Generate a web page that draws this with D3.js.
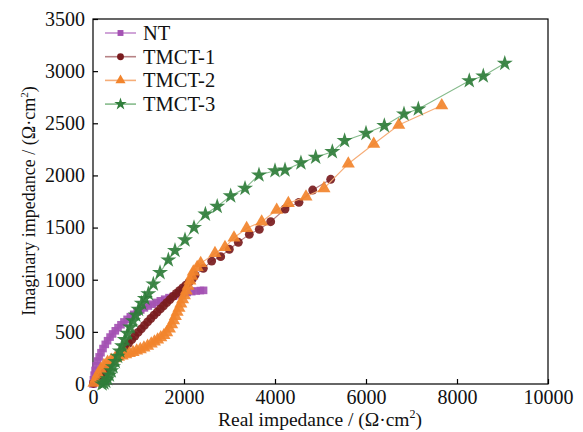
<!DOCTYPE html>
<html>
<head>
<meta charset="utf-8">
<script src="https://cdn.jsdelivr.net/npm/d3@7/dist/d3.min.js"></script>
<style>
  html, body { margin: 0; padding: 0; background: #fff; }
  svg text { font-family: "Liberation Serif", "Times New Roman", serif; fill: #111; }
</style>
</head>
<body>
<svg id="chart" width="583" height="432"></svg>
<script>
// ---- data (Ω·cm²) ----
const seriesNames = ["NT", "TMCT-1", "TMCT-2", "TMCT-3"];

const ntX = [0, 10, 25, 45, 70, 100, 135, 175, 220, 270, 320, 375, 430, 490, 550, 615, 680, 750, 820, 895, 970, 1050, 1130, 1215, 1300, 1390, 1480, 1575, 1670, 1770, 1870, 1970, 2070, 2170, 2270, 2360, 2430];
const ntY = [0, 40, 85, 130, 175, 220, 260, 300, 340, 380, 415, 450, 480, 510, 540, 568, 595, 620, 645, 668, 690, 710, 730, 748, 765, 782, 798, 813, 828, 842, 856, 868, 878, 886, 892, 896, 898];

const t1X = [10, 60, 120, 180, 240, 300, 360, 430, 500, 570, 640, 710, 780, 850, 920, 990, 1060, 1130, 1200, 1270, 1340, 1410, 1480, 1550, 1620, 1690, 1760, 1830, 1900, 1970, 2040, 2110, 2180, 2242, 2425, 2608, 2806, 2996, 3194, 3436, 3655, 3905, 4220, 4527, 4828, 5224];
const t1Y = [5, 30, 60, 90, 120, 150, 180, 215, 250, 285, 320, 355, 390, 425, 460, 495, 528, 562, 595, 628, 660, 690, 720, 750, 780, 810, 840, 868, 895, 922, 948, 975, 1005, 1045, 1109, 1179, 1221, 1292, 1359, 1435, 1483, 1556, 1678, 1742, 1860, 1963];

const t2X = [20, 60, 110, 170, 240, 320, 400, 480, 560, 640, 720, 800, 880, 960, 1040, 1120, 1200, 1280, 1350, 1420, 1490, 1560, 1620, 1680, 1730, 1770, 1810, 1850, 1890, 1930, 1970, 2010, 2050, 2090, 2130, 2170, 2205, 2290, 2367, 2681, 2901, 3099, 3377, 3707, 4037, 4293, 4681, 5077, 5611, 6170, 6720, 7665];
const t2Y = [10, 50, 95, 140, 180, 210, 230, 245, 260, 272, 283, 295, 305, 318, 332, 348, 365, 385, 405, 425, 445, 468, 495, 530, 570, 610, 650, 690, 730, 770, 810, 850, 895, 940, 990, 1035, 1077, 1120, 1157, 1253, 1311, 1403, 1493, 1556, 1668, 1733, 1796, 1876, 2112, 2301, 2483, 2670];

const t3X = [200, 240, 280, 320, 360, 400, 440, 490, 540, 590, 640, 700, 760, 820, 880, 940, 1000, 1070, 1140, 1216, 1326, 1473, 1656, 1802, 2022, 2220, 2470, 2730, 3026, 3341, 3648, 4000, 4220, 4570, 4894, 5260, 5530, 6000, 6403, 6835, 7150, 8270, 8578, 9050];
const t3Y = [0, 10, 25, 50, 85, 125, 165, 215, 265, 315, 365, 425, 485, 545, 605, 660, 715, 774, 820, 865, 958, 1068, 1189, 1280, 1381, 1500, 1628, 1703, 1803, 1876, 2004, 2045, 2052, 2120, 2174, 2228, 2333, 2404, 2477, 2589, 2637, 2908, 2953, 3075];

const xTicks = [0, 2000, 4000, 6000, 8000, 10000];
const yTicks = [0, 500, 1000, 1500, 2000, 2500, 3000, 3500];

const markerColors = ["#a452b3", "#7a1c1e", "#f2842c", "#2f7d3a"];
const lineColors   = ["#c48fcf", "#b78285", "#f6ad78", "#86bb8c"];
const symbols = [d3.symbolSquare, d3.symbolCircle, d3.symbolTriangle, d3.symbolStar];
const symSizes = [58, 62, 74, 80];

const allSeries = [[ntX, ntY], [t1X, t1Y], [t2X, t2Y], [t3X, t3Y]];

// ---- layout ----
const svg = d3.select("#chart");
const L = 93, R = 548, T = 19, B = 384;
const x = d3.scaleLinear().domain([0, 10000]).range([L, R]);
const y = d3.scaleLinear().domain([0, 3500]).range([B, T]);

// frame
svg.append("rect").attr("x", L).attr("y", T).attr("width", R - L).attr("height", B - T)
  .attr("fill", "none").attr("stroke", "#000").attr("stroke-width", 1.2);

// axes
const xAxis = svg.append("g").attr("transform", `translate(0,${B})`)
  .call(d3.axisBottom(x).tickValues(xTicks).tickSizeInner(-5).tickSizeOuter(0).tickPadding(6).tickFormat(d3.format("d")));
const yAxis = svg.append("g").attr("transform", `translate(${L},0)`)
  .call(d3.axisLeft(y).tickValues(yTicks).tickSizeInner(-5).tickSizeOuter(0).tickPadding(8).tickFormat(d3.format("d")));
[xAxis, yAxis].forEach(g => {
  g.select(".domain").remove();
  g.selectAll("line").attr("stroke", "#000").attr("stroke-width", 1.2);
  g.selectAll("text").style("font-family", "'Liberation Serif', serif").style("font-size", "20px").attr("fill", "#111");
});

// series
const line = d3.line().x(d => x(d[0])).y(d => y(d[1]));
allSeries.forEach((s, i) => {
  const pts = s[0].map((v, k) => [v, s[1][k]]);
  const g = svg.append("g");
  g.append("path").datum(pts).attr("d", line).attr("fill", "none")
    .attr("stroke", lineColors[i]).attr("stroke-width", 1.1);
  g.selectAll("path.m").data(pts).enter().append("path").attr("class", "m")
    .attr("transform", d => `translate(${x(d[0])},${y(d[1])})`)
    .attr("d", d3.symbol().type(symbols[i]).size(symSizes[i]))
    .attr("fill", markerColors[i]).attr("fill-opacity", 0.92);
});

// legend
const lg = svg.append("g");
seriesNames.forEach((n, i) => {
  const yy = 33 + i * 23.7;
  lg.append("line").attr("x1", 105).attr("x2", 136).attr("y1", yy).attr("y2", yy)
    .attr("stroke", lineColors[i]).attr("stroke-width", 1.6);
  lg.append("path").attr("transform", `translate(120.5,${yy})`)
    .attr("d", d3.symbol().type(symbols[i]).size(symSizes[i] * 0.6)).attr("fill", markerColors[i]);
  lg.append("text").attr("x", 143).attr("y", yy + 7).style("font-size", "20.5px").text(n);
});

// axis titles
const xt = svg.append("text").attr("x", 320).attr("y", 426).attr("text-anchor", "middle").style("font-size", "19.5px");
xt.append("tspan").text("Real impedance / (Ω·cm");
xt.append("tspan").attr("dy", -8).style("font-size", "12px").text("2");
xt.append("tspan").attr("dy", 8).text(")");

const yt = svg.append("text").attr("transform", "translate(35,201) rotate(-90)").attr("text-anchor", "middle").style("font-size", "18px");
yt.append("tspan").text("Imaginary impedance / (Ω·cm");
yt.append("tspan").attr("dy", -7).style("font-size", "11px").text("2");
yt.append("tspan").attr("dy", 7).text(")");
</script>
</body>
</html>
